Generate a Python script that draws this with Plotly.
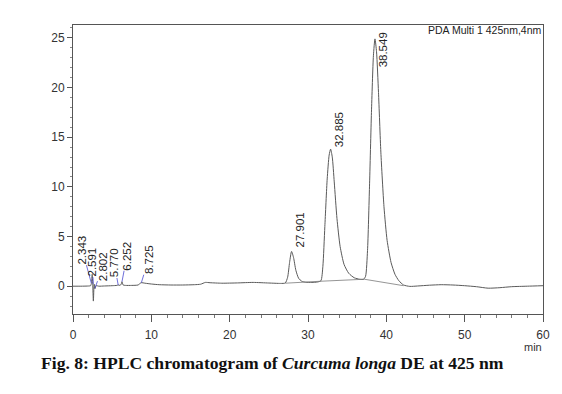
import plotly.graph_objects as go

# Chromatogram signal (time in min, intensity in mAU)
time = [0.0, 1.0, 2.0, 2.25, 2.35, 2.45, 2.52, 2.6, 2.7, 2.8, 2.95, 3.3, 4.0, 5.0, 5.6,
        5.77, 6.0, 6.15, 6.25, 6.4, 6.7, 7.5, 8.3, 8.7, 9.2, 10.0, 11.0, 12.5, 14.0,
        15.5, 16.3, 16.9, 17.5, 19.0, 21.0, 23.0, 25.0, 26.5, 27.1, 27.4, 27.65,
        27.9, 28.15, 28.45, 28.8, 29.2, 29.7, 30.5, 31.2, 31.65, 31.9, 32.15, 32.45,
        32.7, 32.885, 33.1, 33.35, 33.7, 34.1, 34.6, 35.2, 35.9, 36.6, 37.1, 37.35,
        37.6, 37.85, 38.1, 38.35, 38.549, 38.75, 39.0, 39.3, 39.7, 40.1, 40.6, 41.1,
        41.6, 42.2, 43.0, 44.0, 45.5, 47.0, 48.5, 50.0, 51.5, 53.0, 54.5, 56.0, 58.0,
        60.0]
signal = [0.0, 0.0, 0.02, 0.05, 0.3, 1.2, 0.2, -1.5, 0.2, -0.25, 0.05, 0.0, 0.02, 0.05,
          0.08, 0.12, 0.08, 0.2, 0.45, 0.12, 0.08, 0.08, 0.12, 0.35, 0.3, 0.22, 0.15,
          0.12, 0.12, 0.15, 0.2, 0.38, 0.35, 0.3, 0.33, 0.38, 0.32, 0.28, 0.32, 0.9,
          2.4, 3.5, 2.9, 1.6, 0.8, 0.5, 0.4, 0.38, 0.42, 0.55, 2.0, 6.0, 10.8, 13.2,
          13.8, 13.0, 10.5, 6.8, 4.0, 2.2, 1.3, 0.85, 0.7, 0.7, 1.0, 3.6, 10.0, 17.5,
          23.2, 24.9, 23.6, 19.5, 13.5, 8.0, 4.6, 2.4, 1.2, 0.55, 0.12, -0.02, 0.02,
          0.1, 0.15, 0.12, 0.05, -0.05, -0.2, -0.15, -0.05, 0.0, 0.05]

# Integration baseline under the main peaks
base_time = [27.1, 29.8, 31.65, 37.2, 42.2]
base_level = [0.3, 0.45, 0.5, 0.7, 0.05]

# Peak retention times and apex heights
peak_rt = [27.901, 32.885, 38.549]
peak_height = [3.5, 13.8, 24.9]
peak_labels = ["27.901", "32.885", "38.549"]

minor_rt = [2.343, 2.591, 2.802, 5.770, 6.252, 8.725]
minor_level = [0.3, 0.2, -0.2, 0.12, 0.45, 0.35]
minor_labels = ["2.343", "2.591", "2.802", "5.770", "6.252", "8.725"]

x_ticks = [0, 10, 20, 30, 40, 50, 60]
y_ticks = [0, 5, 10, 15, 20, 25]

TICKFONT = dict(family="Liberation Sans Narrow, Arial Narrow, Liberation Sans, Arial", size=12, color="#333333")
LABELFONT = dict(family="Liberation Sans, Arial", size=11.5, color="#222222")

fig = go.Figure()
fig.add_trace(go.Scatter(x=time, y=signal, mode="lines",
                         line=dict(color="#5a5a5a", width=1, shape="spline", smoothing=0.6),
                         showlegend=False, hoverinfo="skip"))
fig.add_trace(go.Scatter(x=base_time, y=base_level, mode="lines",
                         line=dict(color="#7a7a7a", width=0.8),
                         showlegend=False, hoverinfo="skip"))

# Main peak labels (rotated)
shifts = [2, 0, -30]
for rt, h, lab, ys in zip(peak_rt, peak_height, peak_labels, shifts):
    fig.add_annotation(x=rt, y=h, text=lab, textangle=-90, showarrow=False,
                       xanchor="center", yanchor="bottom", xshift=8, yshift=ys,
                       font=LABELFONT)

# Small peak labels with blue leader lines
offsets = [(-9, -33), (-1, -22), (8, -22), (-4, -22), (5, -26), (7, -23)]
for rt, lv, lab, (ax, ay) in zip(minor_rt, minor_level, minor_labels, offsets):
    fig.add_annotation(x=rt, y=lv, text=lab, textangle=-90, showarrow=True,
                       arrowhead=0, arrowwidth=0.8, arrowcolor="#4a4ad0",
                       ax=ax, ay=ay, font=LABELFONT, standoff=0, borderpad=0)

fig.add_annotation(xref="paper", yref="paper", x=1.0, y=0.983, text="PDA Multi 1 425nm,4nm",
                   showarrow=False, xanchor="right", yanchor="middle",
                   font=dict(family="Liberation Sans Narrow, Arial Narrow, Liberation Sans", size=10.5, color="#222222"))
fig.add_annotation(xref="paper", yref="paper", x=0.978, y=-0.113, text="min",
                   showarrow=False, xanchor="center", yanchor="middle",
                   font=dict(family=TICKFONT["family"], size=11, color="#333333"))
fig.add_annotation(xref="paper", yref="paper", x=0.4245, y=-0.17,
                   text="<b>Fig. 8: HPLC chromatogram of <i>Curcuma longa</i> DE at 425 nm</b>",
                   showarrow=False, xanchor="center", yanchor="middle",
                   font=dict(family="Liberation Serif, Times New Roman, serif", size=17.6, color="#111111"))

fig.update_xaxes(range=[0, 60], tickvals=x_ticks, ticktext=[str(v) for v in x_ticks],
                 showgrid=False, zeroline=False, showline=True, linecolor="#555555",
                 linewidth=1, mirror=True, ticks="outside", ticklen=7, tickcolor="#555555",
                 tickfont=TICKFONT, ticklabelstandoff=3,
                 minor=dict(dtick=2, ticks="outside", ticklen=3, tickcolor="#777777", showgrid=False))
fig.update_yaxes(range=[-2.8, 26.3], tickvals=y_ticks, ticktext=[str(v) for v in y_ticks],
                 showgrid=False, zeroline=False, showline=True, linecolor="#555555",
                 linewidth=1, mirror=True, ticks="outside", ticklen=5, tickcolor="#555555",
                 tickfont=TICKFONT,
                 minor=dict(dtick=1, ticks="outside", ticklen=2, tickcolor="#888888", showgrid=False))

fig.update_layout(width=562, height=394, margin=dict(l=73, r=19, t=25, b=80),
                  paper_bgcolor="white", plot_bgcolor="white", showlegend=False)

fig.write_html("out.html", config={"displayModeBar": False},
               post_script="document.body.style.margin='0';")
